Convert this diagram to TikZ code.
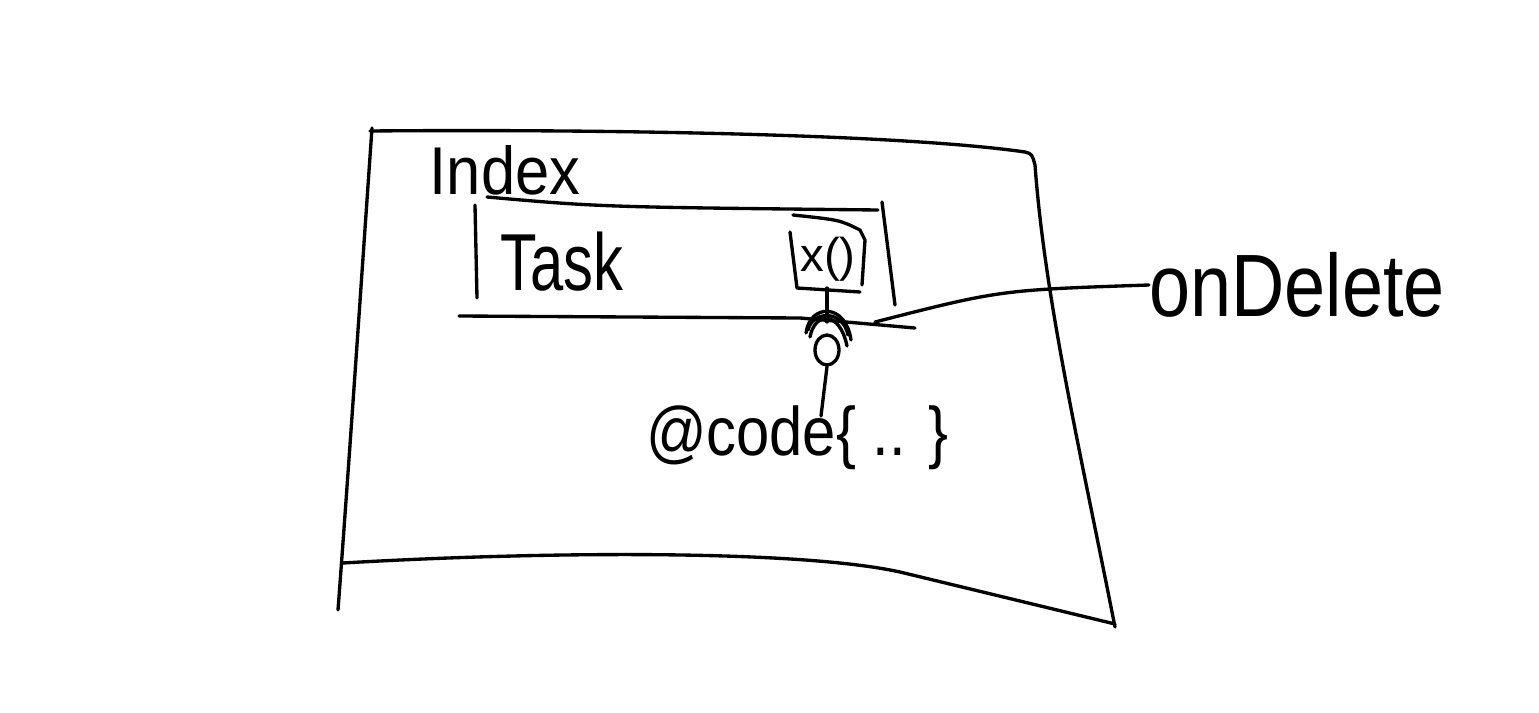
\documentclass[tikz,border=0pt]{standalone}
\usepackage{fontspec}
\setmainfont{Liberation Sans}
\usetikzlibrary{shapes.geometric}
\tikzset{
  sk/.style={line width=1.9pt, line cap=round, line join=round, black},
  hand/.style={inner sep=0pt, anchor=center},
}
\begin{document}
\begin{tikzpicture}[x=0.02cm, y=-0.02cm]
\useasboundingbox[fill=white] (0,0) rectangle (1539,713);
% outer sheet
\draw[sk] (372,128) .. controls (360,300) and (350,450) .. (338,610);
\draw[sk] (370,131) .. controls (600,129) and (900,134) .. (1025,152) .. controls (1032,154) .. (1035,165)
  .. controls (1045,300) and (1080,450) .. (1115,627);
\draw[sk] (343,563) .. controls (550,551) and (800,550) .. (900,572) -- (1115,624);
% labels
\node[hand, font=\fontsize{35}{38}\selectfont, yscale=1.1] (index) at (505,170) {Index};
% task row
\draw[sk] (487,197) .. controls (600,207) .. (878,210);
\draw[sk] (882,202) -- (895,305);
\draw[sk] (475,205) -- (477,298);
\draw[sk] (459,316) -- (800,318) -- (915,328);
\node[hand, font=\fontsize{40}{44}\selectfont, xscale=0.85, yscale=1.15] (task) at (562,262) {Task};
% delete button
\draw[sk] (790,232) -- (797,288) -- (860,292);
\draw[sk] (793,215) .. controls (840,220) .. (860,230) -- (865,240) -- (862,285);
\node[hand, font=\fontsize{27}{30}\selectfont] (xbtn) at (828,259) {x()};
\coordinate (xbot) at (827,288);
% socket
\coordinate (sock) at (827,322);
\draw[sk] (xbot) -- (sock);
\draw[sk] (806,333) .. controls (810,303) and (846,303) .. (851,340);
\draw[sk] (810,337) .. controls (815,311) and (840,311) .. (847,346);
\draw[sk] (808,330) .. controls (813,310) and (843,310) .. (848,335);
\node[sk, draw, ellipse, minimum width=0.48cm, minimum height=0.6cm, inner sep=0pt] (jack) at (827,350) {};
% code
\node[hand, font=\fontsize{34}{38}\selectfont, yscale=1.15] (code) at (797,438) {@code\{ .. \}};
\coordinate (codetop) at (821,416);
\draw[sk] (jack.south) -- (codetop);
% onDelete
\node[hand, font=\fontsize{42}{46}\selectfont, yscale=1.2] (ondel) at (1297,285) {onDelete};
\coordinate (tap) at (875,322);
\draw[sk] (ondel.west) .. controls (1000,290) .. (tap);
\end{tikzpicture}
\end{document}
